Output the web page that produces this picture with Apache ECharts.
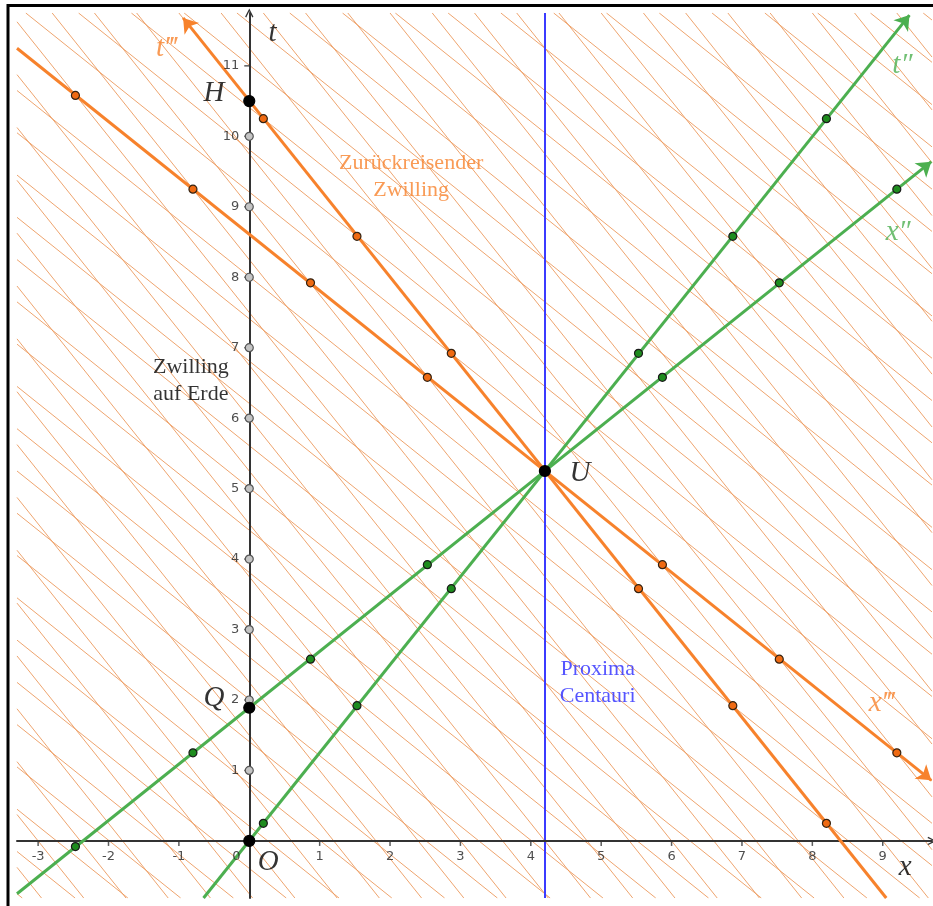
<!DOCTYPE html>
<html>
<head>
<meta charset="utf-8">
<script src="https://cdn.jsdelivr.net/npm/echarts@6/dist/echarts.min.js"></script>
<style>html,body{margin:0;padding:0;background:#fff}#c{width:933px;height:906px}</style>
</head>
<body>
<div id="c"></div>
<script>
// ---------- data ----------
const X_MIN = -3.3, X_MAX = 9.7, T_MIN = -0.81, T_MAX = 11.75;
const xTickValues = [-3, -2, -1, 0, 1, 2, 3, 4, 5, 6, 7, 8, 9];
const tTickValues = [1, 2, 3, 4, 5, 6, 7, 8, 9, 10, 11];
const tAxisDots = [[0,1],[0,2],[0,3],[0,4],[0,5],[0,6],[0,7],[0,8],[0,9],[0,10]];
const namedPoints = [
  { name: 'O', value: [0, 0] },
  { name: 'Q', value: [0, 1.89] },
  { name: 'H', value: [0, 10.5] },
  { name: 'U', value: [4.2, 5.25] }
];
const proximaLine = [[4.2, T_MIN], [4.2, T_MAX]];
const tDoublePrimeAxis = [[-0.65, -0.81], [9.38, 11.72]];
const xDoublePrimeAxis = [[-3.3, -0.75], [9.69, 9.64]];
const tTriplePrimeAxis = [[9.05, -0.81], [-0.94, 11.68]];
const xTriplePrimeAxis = [[-3.3, 11.25], [9.69, 0.86]];
const greenTDots = [[0.2,0.25],[1.53,1.92],[2.87,3.58],[5.53,6.92],[6.87,8.58],[8.2,10.25]];
const greenXDots = [[-2.47,-0.08],[-0.8,1.25],[0.87,2.58],[2.53,3.92],[5.87,6.58],[7.53,7.92],[9.2,9.25]];
const orangeTDots = [[0.2,10.25],[1.53,8.58],[2.87,6.92],[5.53,3.58],[6.87,1.92],[8.2,0.25]];
const orangeXDots = [[-2.47,10.58],[-0.8,9.25],[0.87,7.92],[2.53,6.58],[5.87,3.92],[7.53,2.58],[9.2,1.25]];
// background grid of the returning frame: t = b + slope * x
const gridShallowSlope = -0.8;
const gridShallowIntercepts = [-3.39,-2.79,-2.19,-1.59,-0.99,-0.39,0.21,0.81,1.41,2.01,2.61,3.21,3.81,4.41,5.01,5.61,6.21,6.81,7.41,8.01,8.61,9.21,9.81,10.41,11.01,11.61,12.21,12.81,13.41,14.01,14.61,15.21,15.81,16.41,17.01,17.61,18.21,18.81,19.41];
const gridSteepSlope = -1.25;
const gridSteepIntercepts = [-4.5,-3.75,-3.0,-2.25,-1.5,-0.75,0,0.75,1.5,2.25,3.0,3.75,4.5,5.25,6.0,6.75,7.5,8.25,9.0,9.75,10.5,11.25,12.0,12.75,13.5,14.25,15.0,15.75,16.5,17.25,18.0,18.75,19.5,20.25,21.0,21.75,22.5,23.25];
// text annotations
const pointLabels = [
  { text: 'H', pos: [-0.5, 10.61], color: '#000' },
  { text: 'Q', pos: [-0.5, 2.03], color: '#000' },
  { text: 'O', pos: [0.27, -0.31], color: '#000' },
  { text: 'U', pos: [4.7, 5.21], color: '#000' },
  { text: 't', pos: [0.33, 11.46], color: '#000' },
  { text: 'x', pos: [9.32, -0.37], color: '#000' },
  { text: 't\u2033', pos: [9.28, 11.01], color: '#4caf50' },
  { text: 'x\u2033', pos: [9.22, 8.64], color: '#4caf50' },
  { text: 't\u2034', pos: [-1.18, 11.25], color: '#f7822c' },
  { text: 'x\u2034', pos: [8.98, 1.95], color: '#f7822c' }
];
const textLabels = [
  { text: 'Zurückreisender\nZwilling', pos: [2.3, 9.43], color: '#f7822c' },
  { text: 'Zwilling\nauf Erde', pos: [-0.83, 6.53], color: '#000' },
  { text: 'Proxima\nCentauri', pos: [4.95, 2.24], color: '#2a2aff' }
];

// ---------- helpers ----------
function clipLine(b, s) {
  const xa = (T_MIN - b) / s, xb = (T_MAX - b) / s;
  const lo = Math.max(X_MIN, Math.min(xa, xb));
  const hi = Math.min(X_MAX, Math.max(xa, xb));
  if (lo >= hi) return null;
  return [[lo, b + s * lo], [hi, b + s * hi]];
}
const gridSegs = [];
gridShallowIntercepts.forEach(b => { const c = clipLine(b, gridShallowSlope); if (c) gridSegs.push({ coords: c }); });
gridSteepIntercepts.forEach(b => { const c = clipLine(b, gridSteepSlope); if (c) gridSegs.push({ coords: c }); });

const GREEN = '#4caf50', ORANGE = '#f7822c';
const serif = 'Liberation Serif';
const chevron = 'path://M0,10 L5,0 L10,10 L8.6,10.8 L5,3.2 L1.4,10.8 Z';

function arrowLine(coords, color) {
  return {
    type: 'lines', coordinateSystem: 'cartesian2d', polyline: false, silent: true, z: 4,
    symbol: ['none', 'arrow'], symbolSize: 14,
    lineStyle: { color: color, width: 3, opacity: 1 },
    data: [{ coords: coords }]
  };
}
function dots(data, fill, border, size, z) {
  return {
    type: 'scatter', data: data, symbolSize: size, silent: true, z: z || 6,
    itemStyle: { color: fill, borderColor: border, borderWidth: 1.2, opacity: 1 }
  };
}

const chart = echarts.init(document.getElementById('c'), null, { renderer: 'canvas' });
chart.setOption({
  animation: false,
  backgroundColor: '#fff',
  grid: { left: 17, right: 1, top: 13, bottom: 8, containLabel: false, outerBoundsMode: 'none' },
  graphic: [{
    type: 'rect', shape: { x: 8, y: 5.5, width: 1000, height: 1000 },
    style: { fill: 'none', stroke: '#000', lineWidth: 3 }, z: 100
  }],
  xAxis: {
    type: 'value', min: X_MIN, max: X_MAX, z: 3,
    axisLine: { show: true, onZero: true, symbol: ['none', chevron], symbolSize: [10, 9],
      lineStyle: { color: '#333', width: 2 } },
    axisTick: { show: false },
    axisLabel: { show: false },
    splitLine: { show: false }
  },
  yAxis: {
    type: 'value', min: T_MIN, max: T_MAX, z: 3,
    axisLine: { show: true, onZero: true, symbol: ['none', chevron], symbolSize: [10, 9],
      lineStyle: { color: '#333', width: 2 } },
    axisTick: { show: false },
    axisLabel: { show: false },
    splitLine: { show: false }
  },
  series: [
    {
      type: 'lines', coordinateSystem: 'cartesian2d', polyline: false, silent: true, z: 1,
      lineStyle: { color: '#ec9a5e', width: 0.9, opacity: 1 },
      data: gridSegs
    },
    {
      type: 'lines', coordinateSystem: 'cartesian2d', polyline: false, silent: true, z: 2,
      lineStyle: { color: '#3b3bff', width: 2, opacity: 1 },
      data: [{ coords: proximaLine }]
    },
    // x tick marks and labels
    {
      type: 'scatter', silent: true, z: 5, symbol: 'rect', symbolSize: [1.5, 5], symbolOffset: [0, 2.5],
      itemStyle: { color: '#333' },
      data: xTickValues.map(v => ({
        value: [v, 0],
        label: { show: true, position: 'bottom', distance: 4, formatter: String(v),
          fontSize: 13, color: '#222', fontFamily: 'DejaVu Sans',
          offset: v === 0 ? [-13, 0] : [0, 0] }
      }))
    },
    // t tick marks and labels
    {
      type: 'scatter', silent: true, z: 5, symbol: 'rect', symbolSize: [5, 1.5], symbolOffset: [-2.5, 0],
      itemStyle: { color: '#333' },
      data: tTickValues.map(v => ({
        value: [0, v],
        label: { show: true, position: 'left', distance: 5, formatter: String(v),
          fontSize: 13, color: '#222', fontFamily: 'DejaVu Sans' }
      }))
    },
    arrowLine(tDoublePrimeAxis, GREEN),
    arrowLine(xDoublePrimeAxis, GREEN),
    arrowLine(tTriplePrimeAxis, ORANGE),
    arrowLine(xTriplePrimeAxis, ORANGE),
    dots(tAxisDots, '#c4c4c4', '#555', 8),
    dots(greenTDots, '#1e8c1e', '#1a1a1a', 8),
    dots(greenXDots, '#1e8c1e', '#1a1a1a', 8),
    dots(orangeTDots, '#ef6a12', '#332211', 8),
    dots(orangeXDots, '#ef6a12', '#332211', 8),
    dots(namedPoints, '#000', '#000', 11, 7),
    {
      type: 'scatter', symbolSize: 0, silent: true, z: 8,
      data: pointLabels.map(p => ({
        value: p.pos,
        label: { show: true, position: 'inside', formatter: p.text, color: p.color,
          fontSize: 29, fontStyle: 'italic', fontFamily: serif }
      }))
    },
    {
      type: 'scatter', symbolSize: 0, silent: true, z: 8,
      data: textLabels.map(p => ({
        value: p.pos,
        label: { show: true, position: 'inside', formatter: p.text, color: p.color,
          fontSize: 22, lineHeight: 27, fontFamily: serif, align: 'center' }
      }))
    }
  ]
});
</script>
</body>
</html>
